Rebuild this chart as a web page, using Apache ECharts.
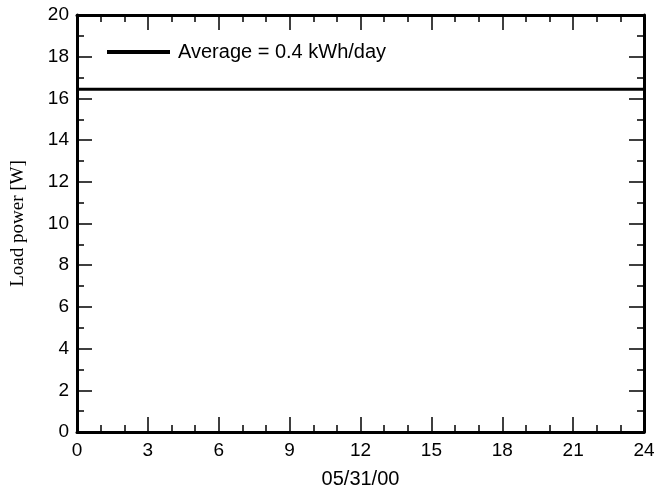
<!DOCTYPE html>
<html>
<head>
<meta charset="utf-8">
<script src="https://cdn.jsdelivr.net/npm/echarts@6/dist/echarts.min.js"></script>
<style>
  html, body { margin: 0; padding: 0; background: #fff; }
  #chart { width: 656px; height: 494px; }
</style>
</head>
<body>
<div id="chart"></div>
<script>
// hours of the day and the load over it
var hours = [0, 24];
var loadPower = [16.44, 16.44];
var seriesName = "Average = 0.4 kWh/day";
var xTicks = { min: 0, max: 24, interval: 3 };
var yTicks = { min: 0, max: 20, interval: 2 };

var myChart = echarts.init(document.getElementById("chart"));

var points = [];
for (var i = 0; i < hours.length; i++) {
  points.push([hours[i], loadPower[i]]);
}

var sansFont = "Liberation Sans, Arial, sans-serif";

function makeX(pos, showLabel) {
  return {
    type: "value",
    position: pos,
    min: xTicks.min,
    max: xTicks.max,
    interval: xTicks.interval,
    name: showLabel ? "05/31/00" : "",
    nameLocation: "middle",
    nameGap: 37,
    nameTextStyle: { color: "#000", fontSize: 20, fontFamily: sansFont },
    axisLine: { show: true, onZero: false, lineStyle: { color: "#000", width: 3 } },
    axisTick: { show: true, inside: true, length: 15, lineStyle: { color: "#000", width: 1.5 } },
    minorTick: { show: true, splitNumber: 3, length: 7, lineStyle: { color: "#000", width: 1.5 } },
    axisLabel: { show: showLabel, margin: 9, color: "#000", fontSize: 19, fontFamily: sansFont },
    splitLine: { show: false }
  };
}

function makeY(pos, showLabel) {
  return {
    type: "value",
    position: pos,
    min: yTicks.min,
    max: yTicks.max,
    interval: yTicks.interval,
    name: showLabel ? "Load power [W]" : "",
    nameLocation: "middle",
    nameGap: 49,
    nameTextStyle: { color: "#000", fontSize: 19, fontFamily: "Liberation Serif, Times New Roman, serif" },
    axisLine: { show: true, onZero: false, lineStyle: { color: "#000", width: 3 } },
    axisTick: { show: true, inside: true, length: 15, lineStyle: { color: "#000", width: 1.5 } },
    minorTick: { show: true, splitNumber: 2, length: 7, lineStyle: { color: "#000", width: 1.5 } },
    axisLabel: { show: showLabel, margin: 8, color: "#000", fontSize: 19, fontFamily: sansFont },
    splitLine: { show: false }
  };
}

var option = {
  backgroundColor: "#fff",
  animation: false,
  grid: { left: 77, right: 12, top: 15, bottom: 62, containLabel: false, outerBoundsMode: "none" },
  legend: {
    show: true,
    left: 102,
    top: 37,
    itemWidth: 63,
    itemHeight: 4,
    itemGap: 10,
    textStyle: { color: "#000", fontSize: 20, fontFamily: sansFont, padding: [0, 0, 0, 3] },
    data: [{ name: seriesName, icon: "rect" }],
    itemStyle: { color: "#000" }
  },
  xAxis: [makeX("bottom", true), makeX("top", false)],
  yAxis: [makeY("left", true), makeY("right", false)],
  series: [
    {
      name: seriesName,
      type: "line",
      xAxisIndex: 0,
      yAxisIndex: 0,
      symbol: "none",
      data: points,
      color: "#000",
      lineStyle: { color: "#000", width: 3 }
    }
  ]
};

myChart.setOption(option);
</script>
</body>
</html>
